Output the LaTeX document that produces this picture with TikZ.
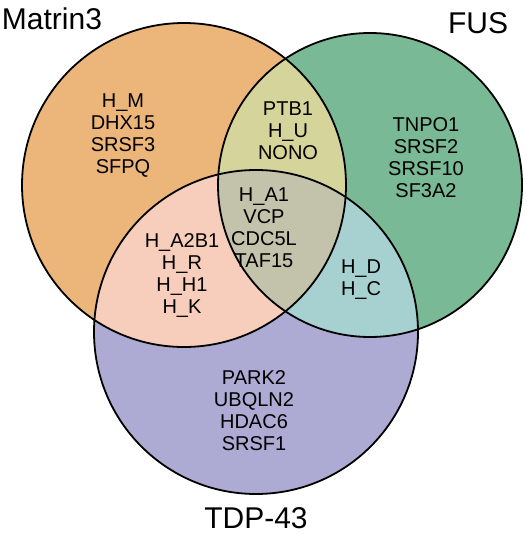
\documentclass[tikz,border=0pt]{standalone}
\usepackage{fontspec}
\setmainfont{Liberation Sans}
\definecolor{corange}{RGB}{236,181,122}
\definecolor{cgreen}{RGB}{122,185,149}
\definecolor{cpurple}{RGB}{173,170,211}
\definecolor{cyellow}{RGB}{213,212,155}
\definecolor{cpink}{RGB}{247,206,187}
\definecolor{cteal}{RGB}{167,208,208}
\definecolor{cgrey}{RGB}{195,194,170}
\tikzset{
  setlabel/.style={font=\fontsize{30}{34}\selectfont, inner sep=0pt},
  genes/.style={font=\fontsize{20}{22}\selectfont, align=center, inner sep=0pt},
  ring/.style={draw=black, line width=1.8pt}
}
\begin{document}
\begin{tikzpicture}[x=1pt,y=-1pt]
\useasboundingbox (0,0) rectangle (526,534);
\coordinate (cm) at (184,185);
\coordinate (cf) at (370,185);
\coordinate (ct) at (256,332);
\def\rm{162}\def\rf{152}\def\rt{162}
% single-set fills
\fill[corange] (cm) circle (\rm);
\fill[cgreen] (cf) circle (\rf);
\fill[cpurple] (ct) circle (\rt);
% pairwise overlaps
\begin{scope}
  \clip (cm) circle (\rm);
  \fill[cyellow] (cf) circle (\rf);
  \fill[cpink] (ct) circle (\rt);
\end{scope}
\begin{scope}
  \clip (cf) circle (\rf);
  \fill[cteal] (ct) circle (\rt);
\end{scope}
\begin{scope}
  \clip (cm) circle (\rm);
  \clip (cf) circle (\rf);
  \fill[cgrey] (ct) circle (\rt);
\end{scope}
% outlines
\draw[ring] (cm) circle (\rm);
\draw[ring] (cf) circle (\rf);
\draw[ring] (ct) circle (\rt);
% set labels
\node[setlabel] (lm) at (52,19) {Matrin3};
\node[setlabel] (lf) at (478,23) {FUS};
\node[setlabel] (lt) at (256,518) {TDP-43};
% region contents
\node[genes] (gm) at (123,136) {H\_M\\DHX15\\SRSF3\\SFPQ};
\node[genes] (gmf) at (288,131) {PTB1\\H\_U\\NONO};
\node[genes] (gf) at (426,158) {TNPO1\\SRSF2\\SRSF10\\SF3A2};
\node[genes] (gall) at (264,228) {H\_A1\\VCP\\CDC5L\\TAF15};
\node[genes] (gmt) at (182,276) {H\_A2B1\\H\_R\\H\_H1\\H\_K};
\node[genes] (gft) at (361,280) {H\_D\\H\_C};
\node[genes] (gt) at (254,411) {PARK2\\UBQLN2\\HDAC6\\SRSF1};
\end{tikzpicture}
\end{document}
